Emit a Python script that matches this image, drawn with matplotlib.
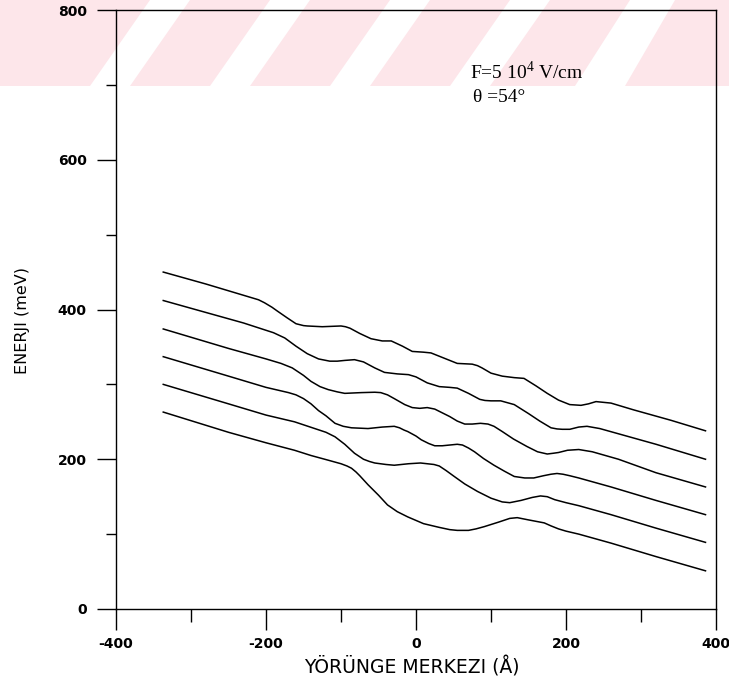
import matplotlib
matplotlib.use('Agg')
import matplotlib.pyplot as plt
from matplotlib.patches import Polygon
from matplotlib.ticker import MultipleLocator

plt.rcParams['mathtext.fontset'] = 'custom'
plt.rcParams['mathtext.rm'] = 'Liberation Serif'
plt.rcParams['axes.unicode_minus'] = False

# ---- data ----
x1 = [-337, -250, -200, -162, -140, -118, -100, -92, -86, -80, -75, -64, -50, -38, -25, -11, 10, 31, 45, 55, 70, 80, 91, 110, 125, 135, 150, 171, 180, 190, 200, 217, 260, 320, 386]
y1 = [263, 236, 222, 212, 205, 199, 194, 191, 188, 183, 178, 166, 152, 139, 130, 123, 114, 109, 106, 105, 105, 107, 110, 116, 121, 122, 119, 115, 111, 107, 104, 100, 88, 70, 51]

x2 = [-337, -250, -200, -162, -135, -120, -108, -95, -82, -70, -62, -55, -40, -29, -10, 6, 24, 31, 40, 51, 65, 82, 100, 115, 125, 140, 155, 166, 175, 185, 200, 217, 260, 320, 386]
y2 = [300, 274, 259, 250, 241, 236, 230, 220, 208, 200, 197, 195, 193, 192, 194, 195, 193, 191, 185, 177, 167, 157, 148, 143, 142, 145, 149, 151, 150, 146, 142, 138, 126, 108, 89]

x3 = [-337, -250, -200, -170, -160, -150, -140, -130, -120, -108, -97, -86, -64, -45, -29, -22, -16, -11, 0, 7, 17, 25, 35, 45, 55, 62, 70, 78, 90, 104, 118, 131, 145, 157, 170, 180, 188, 196, 205, 217, 260, 320, 386]
y3 = [337, 311, 296, 289, 286, 281, 274, 265, 258, 248, 244, 242, 241, 243, 244, 242, 239, 237, 231, 226, 221, 218, 218, 219, 220, 219, 215, 210, 201, 192, 184, 177, 175, 175, 178, 180, 181, 180, 178, 175, 163, 145, 126]

x4 = [-337, -250, -200, -180, -165, -150, -140, -128, -117, -105, -95, -73, -55, -47, -38, -29, -15, -5, 5, 15, 25, 35, 45, 55, 65, 75, 86, 96, 104, 115, 130, 148, 162, 175, 183, 190, 202, 217, 235, 270, 320, 386]
y4 = [374, 348, 334, 328, 322, 312, 304, 297, 293, 290, 288, 289, 289.5, 289, 286, 281, 273, 269, 268, 269, 267, 262, 257, 251, 247, 247, 248, 247, 244, 237, 227, 217, 210, 207, 208, 209, 212, 213, 210, 200, 182, 163]

x5 = [-337, -280, -230, -190, -175, -160, -145, -130, -115, -105, -95, -82, -70, -55, -42, -25, -10, 0, 15, 31, 45, 55, 70, 85, 92, 100, 113, 131, 150, 165, 180, 188, 195, 205, 217, 228, 245, 270, 320, 386]
y5 = [412, 396, 382, 369, 362, 351, 341, 334, 331, 331, 332, 333, 330, 322, 316, 314, 313, 310, 302, 297, 296, 295, 288, 280, 278.5, 278, 278, 273, 261, 251, 242, 240.5, 240, 240, 243, 244, 241, 234, 220, 200]

x6 = [-337, -280, -240, -210, -202, -192, -185, -172, -160, -150, -145, -125, -100, -94, -88, -75, -60, -45, -33, -18, -5, 10, 20, 35, 55, 75, 82, 88, 100, 115, 131, 144, 152, 160, 175, 190, 205, 220, 230, 240, 260, 290, 340, 386]
y6 = [450, 434, 422, 413, 409, 403, 398, 389, 381, 378.5, 378, 377, 378, 377, 375, 368, 361, 358, 358, 351, 344, 343, 342, 336, 328, 327, 325, 322, 315, 311, 309, 308, 303, 298, 288, 279, 273, 272, 274, 277, 275, 266, 252, 238]

curves = [(x1, y1), (x2, y2), (x3, y3), (x4, y4), (x5, y5), (x6, y6)]

xticks = [-400, -200, 0, 200, 400]
yticks = [0, 200, 400, 600, 800]
xlabel = 'YÖRÜNGE MERKEZI (Å)'
ylabel = 'ENERJI (meV)'
note1 = r'F=5 10$^\mathregular{4}$ V/cm'
note2 = 'θ =54°'

# ---- figure ----
W, H = 729, 691
fig = plt.figure(figsize=(W / 100, H / 100), dpi=100)
fig.patch.set_facecolor('white')


def fp(x, y):
    return (x / W, 1 - y / H)


# faint watermark band at the top
pink = '#fde6ea'
band = 86
fig.patches.append(Polygon([fp(0, 0), fp(W, 0), fp(W, band), fp(0, band)], closed=True,
                           transform=fig.transFigure, facecolor=pink, edgecolor='none', zorder=0))
for xb in [90, 210, 330, 450]:
    fig.patches.append(Polygon([fp(xb, band), fp(xb + 40, band), fp(xb + 40 + 60, 0), fp(xb + 60, 0)],
                               closed=True, transform=fig.transFigure, facecolor='white',
                               edgecolor='none', zorder=0))
fig.patches.append(Polygon([fp(575, band), fp(625, band), fp(675, 0), fp(630, 0)],
                           closed=True, transform=fig.transFigure, facecolor='white',
                           edgecolor='none', zorder=0))

ax = fig.add_axes([116 / W, (H - 609) / H, 600 / W, 599 / H])
ax.set_facecolor('none')
ax.set_zorder(2)

for xs, ys in curves:
    ax.plot(xs, ys, color='black', lw=1.1, solid_joinstyle='round')

ax.set_xlim(-400, 400)
ax.set_ylim(0, 800)
ax.set_xticks(xticks)
ax.set_yticks(yticks)
ax.xaxis.set_minor_locator(MultipleLocator(100))
ax.yaxis.set_minor_locator(MultipleLocator(100))
ax.tick_params(axis='x', which='major', direction='out', length=15, width=1, pad=5)
ax.tick_params(axis='x', which='minor', direction='out', length=9, width=1)
ax.tick_params(axis='y', which='major', direction='out', length=14, width=1, pad=7)
ax.tick_params(axis='y', which='minor', direction='out', length=7, width=1)
for lab in ax.get_xticklabels() + ax.get_yticklabels():
    lab.set_fontweight('bold')
    lab.set_fontsize(10)
for sp in ax.spines.values():
    sp.set_linewidth(1.0)

ax.set_xlabel(xlabel, fontsize=13.5)
ax.xaxis.set_label_coords((412 - 116) / 600, -(656 - 609) / 599)
ax.set_ylabel(ylabel, fontsize=11.5)
ax.yaxis.set_label_coords(-(116 - 30) / 600, (609 - 320) / 599)

ax.text(72, 717, note1, family='Liberation Serif', fontsize=14, va='center', ha='left')
ax.text(76, 683, note2, family='Liberation Serif', fontsize=14, va='center', ha='left')

fig.savefig('out.png', dpi=100, facecolor='white')
